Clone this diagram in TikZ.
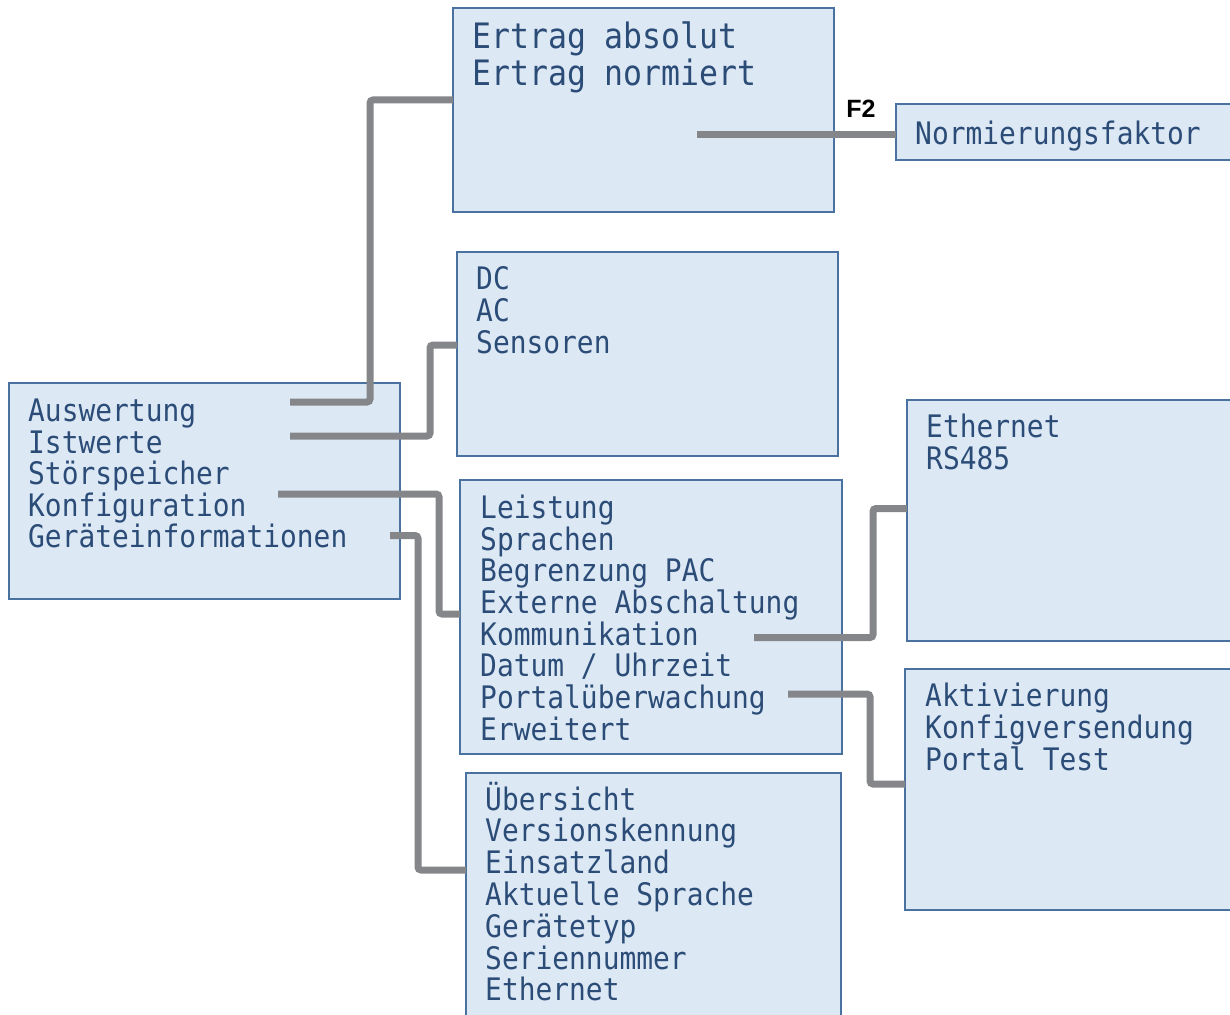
\documentclass[tikz,border=0pt]{standalone}
\usepackage{fontspec}
\setmainfont{Liberation Sans}
\newfontfamily\lcdfont[FakeStretch=0.9]{DejaVu Sans Mono}
\usetikzlibrary{calc}
\definecolor{boxfill}{HTML}{DDE8F5}
\definecolor{boxline}{HTML}{4A72A0}
\definecolor{txtc}{HTML}{2B4C77}
\definecolor{connc}{HTML}{858689}
\begin{document}
\begin{tikzpicture}[x=1pt,y=-1pt,
 panel/.style={draw=boxline, fill=boxfill, line width=2pt, anchor=north west, inner sep=0pt, outer sep=0pt},
 item/.style={anchor=base west, inner sep=0pt, text=txtc, font=\lcdfont\fontsize{31}{32}\selectfont},
 bigitem/.style={item, font=\lcdfont\fontsize{35}{36}\selectfont},
 link/.style={draw=connc, line width=7pt, rounded corners=3pt}]
\useasboundingbox (0,0) rectangle (1230,1014);
\begin{scope}
\clip (0,0) rectangle (1230,1014);
% boxes
\node[panel, minimum width=391, minimum height=216] (main) at (9,383) {};
\node[panel, minimum width=381, minimum height=204] (b1) at (453,8) {};
\node[panel, minimum width=400, minimum height=56] (norm) at (896,104) {};
\node[panel, minimum width=381, minimum height=204] (b2) at (457,252) {};
\node[panel, minimum width=382, minimum height=274] (b3) at (460,480) {};
\node[panel, minimum width=375, minimum height=300] (b4) at (466,773) {};
\node[panel, minimum width=400, minimum height=241] (b5) at (907,400) {};
\node[panel, minimum width=400, minimum height=241] (b6) at (905,669) {};
% texts
\foreach \t [count=\i from 0] in {Auswertung,Istwerte,Störspeicher,Konfiguration,Geräteinformationen}
  \node[item] (m\i) at (28,421.5+31.6*\i) {\t};
\foreach \t [count=\i from 0] in {Ertrag absolut,Ertrag normiert}
  \node[bigitem] (a\i) at (472,48.5+36.6*\i) {\t};
\node[item] (n0) at (915,144) {Normierungsfaktor};
\foreach \t [count=\i from 0] in {DC,AC,Sensoren}
  \node[item] (i\i) at (476,289.3+32*\i) {\t};
\foreach \t [count=\i from 0] in {Leistung,Sprachen,Begrenzung PAC,Externe Abschaltung,Kommunikation,Datum / Uhrzeit,Portalüberwachung,Erweitert}
  \node[item] (k\i) at (480,518.3+31.7*\i) {\t};
\foreach \t [count=\i from 0] in {Übersicht,Versionskennung,Einsatzland,Aktuelle Sprache,Gerätetyp,Seriennummer,Ethernet}
  \node[item] (g\i) at (485,810+31.8*\i) {\t};
\foreach \t [count=\i from 0] in {Ethernet,RS485}
  \node[item] (e\i) at (926,437.7+31.5*\i) {\t};
\foreach \t [count=\i from 0] in {Aktivierung,Konfigversendung,Portal Test}
  \node[item] (p\i) at (925,706+32*\i) {\t};
\node[font=\bfseries\fontsize{25}{27}\selectfont, inner sep=0pt] (f2) at (861,109) {F2};
% connector start points
\coordinate (s1) at (290,402);
\coordinate (s2) at (290,436);
\coordinate (s3) at (278,494);
\coordinate (s4) at (390,535.5);
\coordinate (s5) at (697,134);
\coordinate (s6) at (754,637.5);
\coordinate (s7) at (788,694);
% connectors
\draw[link] (s1) -| (370,100) -- (b1.west |- 0,100);
\draw[link] (s2) -| (430,345) -- (b2.west |- 0,345);
\draw[link] (s3) -| (439,614) -- (b3.west |- 0,614);
\draw[link] (s4) -| (418,870) -- (b4.west |- 0,870);
\draw[link] (s5) -- (norm.west |- 0,134);
\draw[link] (s6) -| (873,508.5) -- (b5.west |- 0,508.5);
\draw[link] (s7) -| (870,784) -- (b6.west |- 0,784);
\end{scope}
\end{tikzpicture}
\end{document}
